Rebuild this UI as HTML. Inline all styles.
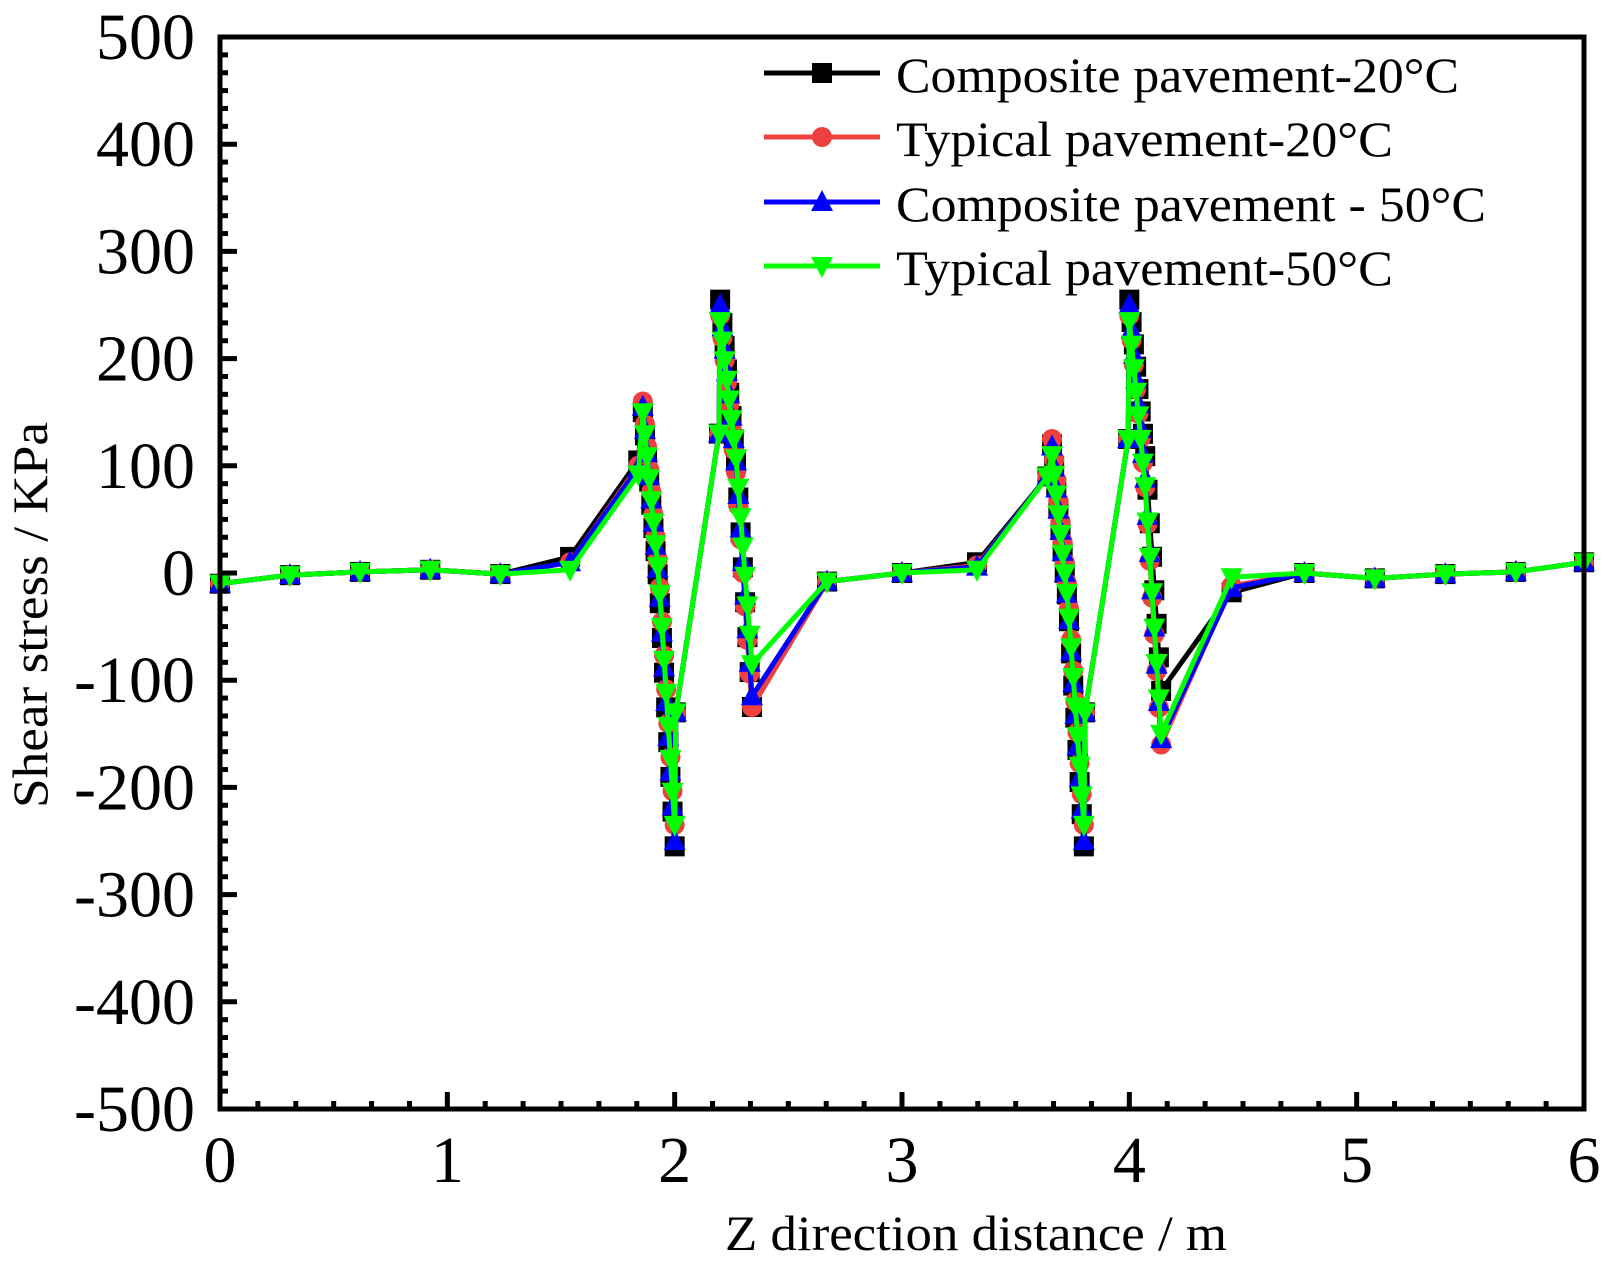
<!DOCTYPE html>
<html><head><meta charset="utf-8"><style>
html,body{margin:0;padding:0;background:#fff;}
svg{display:block;}
text{font-family:"Liberation Serif",serif;fill:#000;}
</style></head><body>
<svg id="s" width="1615" height="1269" xmlns="http://www.w3.org/2000/svg">
<rect width="1615" height="1269" fill="#fff"/>
<g id="series"></g>
<rect x="220" y="37" width="1364" height="1072" fill="none" stroke="#000" stroke-width="5"/>
<g id="ticks" stroke="#000" stroke-width="5"></g>
<g id="labels" font-size="66"></g>
<text x="976" y="1250" font-size="50" text-anchor="middle" textLength="502" lengthAdjust="spacingAndGlyphs">Z direction distance / m</text>
<text transform="translate(47,615) rotate(-90)" font-size="50" text-anchor="middle" textLength="386" lengthAdjust="spacingAndGlyphs">Shear stress / KPa</text>
<g id="legend"></g>
</svg>
<script>
var NS="http://www.w3.org/2000/svg";
function el(t,a,p){var e=document.createElementNS(NS,t);for(var k in a)e.setAttribute(k,a[k]);p.appendChild(e);return e;}
var X=function(v){return 220+v*227.33;}, Y=function(v){return 573-v*1.072;};
var tk=document.getElementById('ticks'), lb=document.getElementById('labels');
for(var i=0;i<=36;i++){var x=220+i*1364/36;var L=(i%6==0)?17:8;if(i>0&&i<36)el('line',{x1:x,y1:1109,x2:x,y2:1109-L},tk);}
for(var i=0;i<=60;i++){var y=37+i*1072/60;var L=(i%6==0)?17:8;if(i>0&&i<60)el('line',{x1:220,y1:y,x2:220+L,y2:y},tk);}
for(var i=0;i<=6;i++){var t=el('text',{x:X(i),y:1182,'text-anchor':'middle'},lb);t.textContent=i;}
for(var v=-500;v<=500;v+=100){var t=el('text',{x:195,y:Y(v)+22,'text-anchor':'end'},lb);t.textContent=v;}
function build(p){
 var d=[[0,-10],[0.308,-2],[0.616,1],[0.925,3],[1.233,-1],[1.54,p.a],[1.84,p.b]];
 function desc(x0,x1,v0,v1,n){for(var i=0;i<n;i++){var t=i/(n-1);var e=t<0.5?0.8*t:0.4+1.2*(t-0.5);d.push([x0+(x1-x0)*t,v0+(v1-v0)*e]);}}
 desc(1.86,2.0,p.c,p.d,16);
 d.push([2.005,-130],[2.195,130]);
 desc(2.2,2.34,p.e,p.f,15);
 d.push([2.67,-8],[3.0,0],[3.33,p.g],[3.64,90]);
 desc(3.66,3.80,p.h,p.d,16);
 d.push([3.805,-130],[3.995,125]);
 desc(4.0,4.14,p.e,p.i,15);
 d.push([4.45,p.j],[4.77,0],[5.08,-5],[5.39,-1],[5.7,1],[6.0,10]);
 return d;
}
var S=[
 {c:'#000',m:'sq',p:{a:15,b:105,c:150,d:-255,e:255,f:-125,g:10,h:120,i:-110,j:-18}},
 {c:'#ef4040',m:'ci',p:{a:10,b:100,c:160,d:-235,e:240,f:-125,g:7,h:125,i:-160,j:-12}},
 {c:'#0000ff',m:'up',p:{a:10,b:98,c:155,d:-250,e:250,f:-115,g:6,h:118,i:-155,j:-14}},
 {c:'#00ff00',m:'dn',p:{a:3,b:92,c:150,d:-235,e:235,f:-85,g:3,h:110,i:-150,j:-4}}
];
var sg=document.getElementById('series');
function marker(m,x,y,c,g){
 if(m=='sq')el('rect',{x:x-10,y:y-10,width:20,height:20,fill:c},g);
 else if(m=='ci')el('circle',{cx:x,cy:y,r:10,fill:c},g);
 else if(m=='up')el('polygon',{points:(x-11)+','+(y+9)+' '+(x+11)+','+(y+9)+' '+x+','+(y-12),fill:c},g);
 else el('polygon',{points:(x-11)+','+(y-9)+' '+(x+11)+','+(y-9)+' '+x+','+(y+12),fill:c},g);
}
S.forEach(function(s){
 var d=build(s.p);var g=el('g',{},sg);
 el('polyline',{points:d.map(function(q){return X(q[0]).toFixed(1)+','+Y(q[1]).toFixed(1)}).join(' '),fill:'none',stroke:s.c,'stroke-width':5,'stroke-linejoin':'round'},g);
 d.forEach(function(q){marker(s.m,X(q[0]),Y(q[1]),s.c,g);});
});
var lg=document.getElementById('legend');
var names=[['Composite pavement-20°C',563],['Typical pavement-20°C',497],['Composite pavement - 50°C',590],['Typical pavement-50°C',497]];
var rows=[73,137,202,266];
S.forEach(function(s,i){
 var y=rows[i];
 el('line',{x1:764,y1:y,x2:880,y2:y,stroke:s.c,'stroke-width':5},lg);
 marker(s.m,822,y,s.c,lg);
 var t=el('text',{x:896,y:y+19,'font-size':50,textLength:names[i][1],lengthAdjust:'spacingAndGlyphs'},lg);t.textContent=names[i][0];
});
</script>
</body></html>
